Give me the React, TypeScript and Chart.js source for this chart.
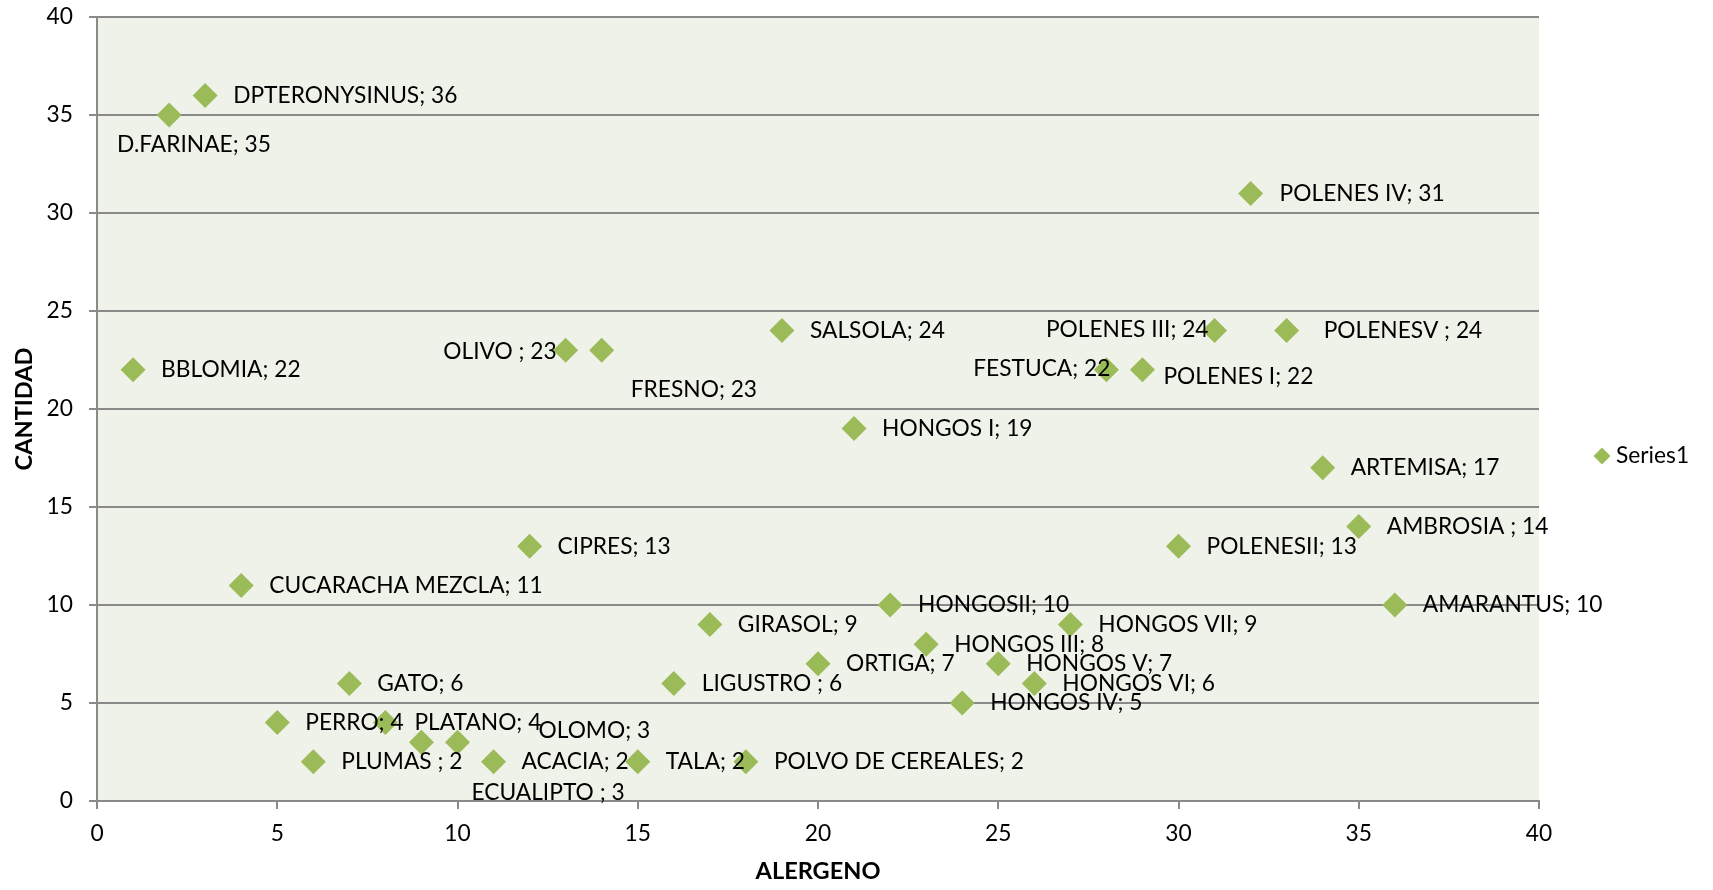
import { useEffect, useRef } from 'react';
import { Chart, registerables } from 'chart.js';

Chart.register(...registerables);

// ---- data ----
const allergens = [
  'BBLOMIA', 'D.FARINAE', 'DPTERONYSINUS', 'CUCARACHA MEZCLA', 'PERRO', 'PLUMAS ', 'GATO', 'PLATANO',
  'ECUALIPTO ', 'OLOMO', 'ACACIA', 'CIPRES', 'OLIVO ', 'FRESNO', 'TALA', 'LIGUSTRO ', 'GIRASOL',
  'POLVO DE CEREALES', 'SALSOLA', 'ORTIGA', 'HONGOS I', 'HONGOSII', 'HONGOS III', 'HONGOS IV',
  'HONGOS V', 'HONGOS VI', 'HONGOS VII', 'FESTUCA', 'POLENES I', 'POLENESII', 'POLENES III',
  'POLENES IV', 'POLENESV ', 'ARTEMISA', 'AMBROSIA ', 'AMARANTUS',
];
const allergenIndex = [
  1, 2, 3, 4, 5, 6, 7, 8, 9, 10, 11, 12, 13, 14, 15, 16, 17, 18,
  19, 20, 21, 22, 23, 24, 25, 26, 27, 28, 29, 30, 31, 32, 33, 34, 35, 36,
];
const counts = [
  22, 35, 36, 11, 4, 2, 6, 4, 3, 3, 2, 13, 23, 23, 2, 6, 9, 2,
  24, 7, 19, 10, 8, 5, 7, 6, 9, 22, 22, 13, 24, 31, 24, 17, 14, 10,
];
const seriesName = 'Series1';
const axisMin = 0;
const axisMax = 40;
const axisStep = 5;

// ---- styles ----
const FONT = 'Lato';
const MARKER = '#9BBB59';
const PLOT_BG = '#EFF2E9';
const GRID = '#898989';
const W = 1713;
const H = 890;
const PLOT = { left: 97, right: 1539, top: 17, bottom: 801 };

// label placement (pixel offsets from the marker centre) for manually moved labels
const DEFAULT_LABEL: [number, number, CanvasTextAlign] = [28, 0, 'left'];
const labelPlacement: Record<number, [number, number, CanvasTextAlign]> = {
  1: [-52, 30, 'left'],
  7: [29, 0, 'left'],
  8: [50, 50, 'left'],
  9: [81, -12, 'left'],
  12: [-9, 1, 'right'],
  13: [29, 39, 'left'],
  27: [4, -1, 'right'],
  28: [21, 7, 'left'],
  30: [-6, -1, 'right'],
  31: [29, 0, 'left'],
  32: [37, 0, 'left'],
};

function fitSize(text: string, target: number, weight = 'normal') {
  const c = document.createElement('canvas').getContext('2d')!;
  c.font = `${weight} 100px ${FONT}`;
  return (100 * target) / c.measureText(text).width;
}

export default function App() {
  const ref = useRef<HTMLCanvasElement | null>(null);

  useEffect(() => {
    document.body.style.margin = '0';
    document.body.style.overflow = 'hidden';
    const canvas = ref.current;
    if (!canvas) return;

    const s1 = fitSize('POLENES III; 24', 163);
    const s2 = fitSize('DPTERONYSINUS; 36', 224);
    const labelSize = (s1 + s2) / 2;
    const titleSize = fitSize('ALERGENO', 125, 'bold');

    const bgPlugin = {
      id: 'plotBg',
      beforeDraw(chart: any) {
        const { ctx, chartArea } = chart;
        ctx.save();
        ctx.fillStyle = '#ffffff';
        ctx.fillRect(0, 0, chart.width, chart.height);
        ctx.fillStyle = PLOT_BG;
        ctx.fillRect(chartArea.left, chartArea.top, chartArea.right - chartArea.left, chartArea.bottom - chartArea.top);
        ctx.restore();
      },
    };

    const labelPlugin = {
      id: 'pointLabels',
      afterDatasetsDraw(chart: any) {
        const meta = chart.getDatasetMeta(0);
        const ctx = chart.ctx;
        ctx.save();
        ctx.font = `${labelSize}px ${FONT}`;
        ctx.fillStyle = '#000000';
        ctx.textBaseline = 'middle';
        meta.data.forEach((pt: any, i: number) => {
          const [dx, dy, align] = labelPlacement[i] ?? DEFAULT_LABEL;
          ctx.textAlign = align;
          ctx.fillText(`${allergens[i]}; ${counts[i]}`, pt.x + dx, pt.y + dy);
        });
        ctx.restore();
      },
    };

    const legendPlugin = {
      id: 'sideLegend',
      afterDraw(chart: any) {
        const ctx = chart.ctx;
        const cx = 1602;
        const cy = (chart.chartArea.top + chart.chartArea.bottom) / 2 + 47;
        const r = 8.5;
        ctx.save();
        ctx.fillStyle = MARKER;
        ctx.beginPath();
        ctx.moveTo(cx - r, cy);
        ctx.lineTo(cx, cy - r);
        ctx.lineTo(cx + r, cy);
        ctx.lineTo(cx, cy + r);
        ctx.closePath();
        ctx.fill();
        ctx.fillStyle = '#000000';
        ctx.font = `${labelSize}px ${FONT}`;
        ctx.textAlign = 'left';
        ctx.textBaseline = 'middle';
        ctx.fillText(seriesName, 1616, cy);
        ctx.restore();
      },
    };

    const chart = new Chart(canvas, {
      type: 'scatter',
      data: {
        datasets: [
          {
            label: seriesName,
            data: allergenIndex.map((x, i) => ({ x, y: counts[i] })),
            pointStyle: 'rectRot',
            pointRadius: 12.5,
            pointHoverRadius: 12.5,
            backgroundColor: MARKER,
            borderColor: MARKER,
            borderWidth: 0,
          },
        ],
      },
      options: {
        responsive: false,
        animation: false,
        devicePixelRatio: 1,
        layout: {
          padding: { left: 0, top: PLOT.top, right: W - PLOT.right, bottom: 0 },
        },
        plugins: {
          legend: { display: false },
          tooltip: { enabled: false },
        },
        scales: {
          x: {
            type: 'linear',
            min: axisMin,
            max: axisMax,
            afterFit(scale: any) {
              scale.height = H - PLOT.bottom;
              scale.paddingLeft = 0;
              scale.paddingRight = 0;
              scale.paddingTop = 0;
              scale.paddingBottom = 0;
            },
            ticks: {
              stepSize: axisStep,
              color: '#000000',
              font: { family: FONT, size: labelSize },
              padding: 25 - 0.6 * labelSize,
            },
            grid: {
              drawOnChartArea: false,
              drawTicks: true,
              tickLength: 8,
              color: GRID,
              lineWidth: 2,
            },
            border: { display: true, color: GRID, width: 2 },
            title: {
              display: true,
              text: 'ALERGENO',
              color: '#000000',
              font: { family: FONT, size: titleSize, weight: 'bold' },
              padding: { top: 0, bottom: 19 - 0.6 * titleSize },
            },
          },
          y: {
            type: 'linear',
            min: axisMin,
            max: axisMax,
            afterFit(scale: any) {
              scale.width = PLOT.left;
              scale.paddingLeft = 0;
              scale.paddingRight = 0;
              scale.paddingTop = 0;
              scale.paddingBottom = 0;
            },
            ticks: {
              stepSize: axisStep,
              color: '#000000',
              font: { family: FONT, size: labelSize },
              padding: 16,
            },
            grid: {
              drawOnChartArea: true,
              drawTicks: true,
              tickLength: 8,
              color: GRID,
              lineWidth: 2,
            },
            border: { display: true, color: GRID, width: 2 },
            title: {
              display: true,
              text: 'CANTIDAD',
              color: '#000000',
              font: { family: FONT, size: titleSize, weight: 'bold' },
              padding: { top: 24 - 0.6 * titleSize, bottom: 0 },
            },
          },
        },
      },
      plugins: [bgPlugin, labelPlugin, legendPlugin],
    });

    return () => chart.destroy();
  }, []);

  return (
    <div style={{ width: W, height: H }}>
      <canvas ref={ref} width={W} height={H} />
    </div>
  );
}
